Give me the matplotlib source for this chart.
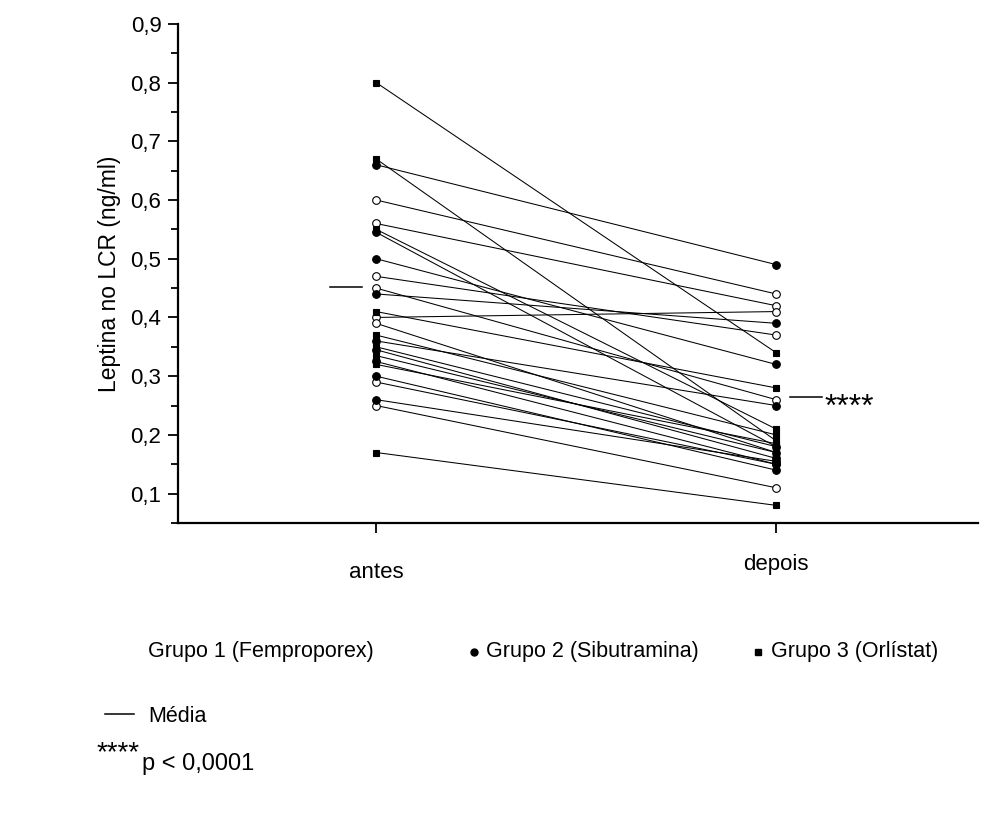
import matplotlib
matplotlib.use("Agg")
import matplotlib.pyplot as plt
from matplotlib.lines import Line2D

plt.rcParams['font.family'] = ['Liberation Sans', 'DejaVu Sans']

momentos = ["antes", "depois"]

# Grupo 1 (Femproporex) - círculos abertos
g1_antes = [0.60, 0.56, 0.47, 0.45, 0.40, 0.39, 0.29, 0.25]
g1_depois = [0.44, 0.42, 0.37, 0.26, 0.41, 0.17, 0.15, 0.11]

# Grupo 2 (Sibutramina) - círculos cheios
g2_antes = [0.66, 0.545, 0.50, 0.44, 0.36, 0.345, 0.325, 0.30, 0.26]
g2_depois = [0.49, 0.18, 0.32, 0.39, 0.25, 0.16, 0.15, 0.14, 0.155]

# Grupo 3 (Orlístat) - quadrados
g3_antes = [0.80, 0.67, 0.55, 0.41, 0.37, 0.35, 0.335, 0.32, 0.17]
g3_depois = [0.34, 0.19, 0.21, 0.28, 0.20, 0.18, 0.17, 0.185, 0.08]

media = [0.452, 0.265]

yticks = [0.1, 0.2, 0.3, 0.4, 0.5, 0.6, 0.7, 0.8, 0.9]
ytick_labels = ["0,1", "0,2", "0,3", "0,4", "0,5", "0,6", "0,7", "0,8", "0,9"]

fig = plt.figure(figsize=(9.95, 8.21), dpi=100)
ax = fig.add_axes([0.179, 0.363, 0.804, 0.608])

grupos = [
    (g1_antes, g1_depois, dict(marker='o', mfc='white', mec='black', ms=5.5, mew=0.8)),
    (g2_antes, g2_depois, dict(marker='o', mfc='black', mec='black', ms=5.5, mew=0.8)),
    (g3_antes, g3_depois, dict(marker='s', mfc='black', mec='black', ms=5, mew=0.8)),
]
for antes, depois, estilo in grupos:
    for a, d in zip(antes, depois):
        ax.plot([0, 1], [a, d], color='black', lw=0.75, zorder=2)
        ax.plot([0, 1], [a, d], linestyle='none', zorder=3, **estilo)

# traços da média
ax.plot([-0.115, -0.035], [media[0]] * 2, color='black', lw=1.1)
ax.plot([1.035, 1.115], [media[1]] * 2, color='black', lw=1.1)
ax.text(1.122, 0.232, "****", fontsize=23, va='baseline', ha='left')

ax.set_xlim(-0.495, 1.505)
ax.set_ylim(0.05, 0.9)
ax.set_xticks([0, 1])
ax.set_xticklabels(momentos, fontsize=16)
ax.get_xticklabels()[1].set_y(0.015)
ax.set_yticks(yticks)
ax.set_yticklabels(ytick_labels, fontsize=16)
ax.set_yticks([0.05 + 0.1 * i for i in range(9)], minor=True)
ax.tick_params(axis='y', which='major', direction='out', length=7, width=1.3, pad=5)
ax.tick_params(axis='y', which='minor', direction='out', length=5, width=1.3)
ax.tick_params(axis='x', direction='out', length=7, width=1.3, pad=21)
ax.set_ylabel("Leptina no LCR (ng/ml)", fontsize=16.5, labelpad=7)

for lado in ['top', 'right']:
    ax.spines[lado].set_visible(False)
for lado in ['left', 'bottom']:
    ax.spines[lado].set_linewidth(1.6)

# legenda embaixo do gráfico
W, H = 995.0, 821.0
fig.text(148 / W, 1 - 651 / H, "Grupo 1 (Femproporex)", fontsize=15.5, va='center')
fig.add_artist(Line2D([474 / W], [1 - 652 / H], marker='o', color='black', ms=5,
                      transform=fig.transFigure))
fig.text(486 / W, 1 - 651 / H, "Grupo 2 (Sibutramina)", fontsize=15.5, va='center')
fig.add_artist(Line2D([758 / W], [1 - 652 / H], marker='s', color='black', ms=5,
                      transform=fig.transFigure))
fig.text(771 / W, 1 - 651 / H, "Grupo 3 (Orlístat)", fontsize=15.5, va='center')

fig.add_artist(Line2D([105 / W, 134 / W], [1 - 714 / H] * 2, color='black', lw=1.1,
                      transform=fig.transFigure))
fig.text(148 / W, 1 - 716 / H, "Média", fontsize=15.5, va='center')
fig.text(97 / W, 1 - 760 / H, "****", fontsize=20, va='baseline')
fig.text(142 / W, 1 - 764 / H, "p < 0,0001", fontsize=17, va='center')

fig.savefig("out.png", dpi=100)
